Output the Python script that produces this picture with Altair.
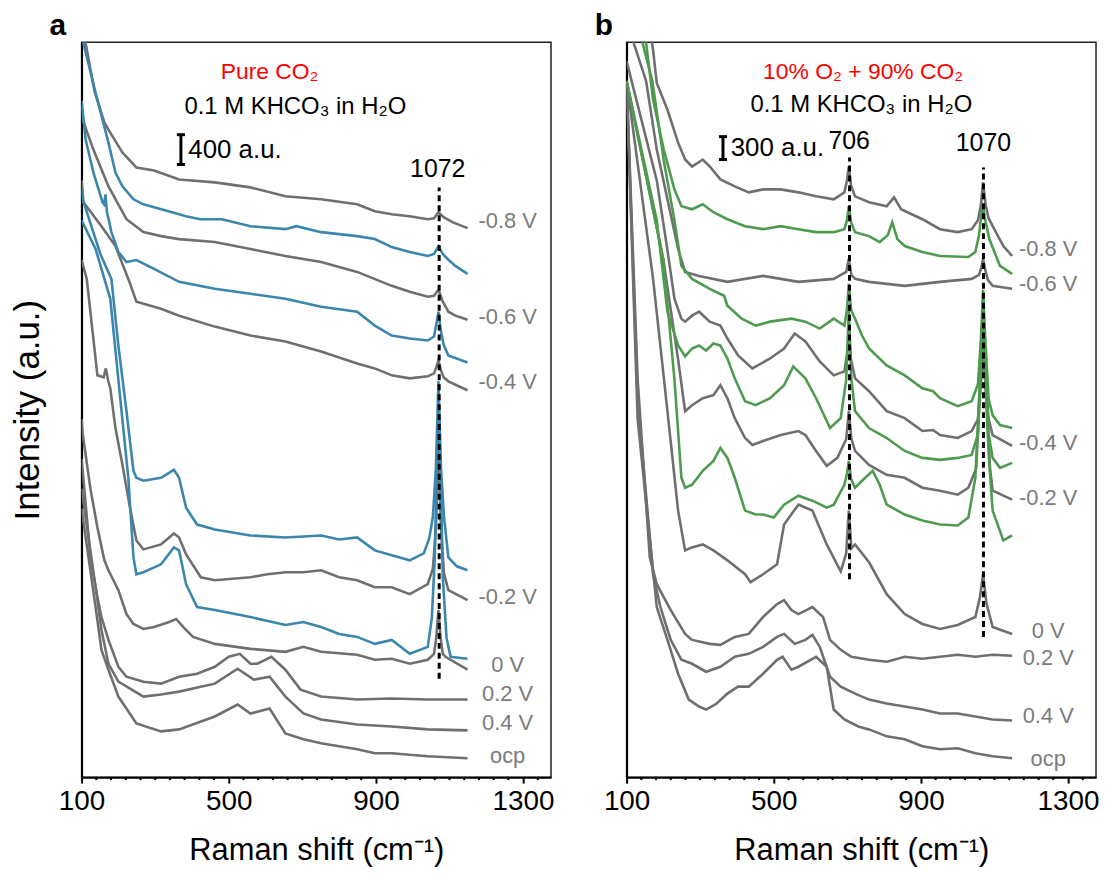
import altair as alt
import pandas as pd

# ---------------- data: panel a (Pure CO2) ----------------
# x = Raman shift (cm-1), y = stacked intensity (arbitrary offset units)
A_G_M08_X = [100, 111, 135, 162, 173, 211, 249, 297, 365, 462, 559, 654, 751, 849, 897, 943, 992, 1041, 1058, 1070, 1084, 1108, 1149]
A_G_M08_Y = [790, 738, 690, 658, 651, 628, 613, 610, 601, 598, 593, 584, 581, 576, 569, 566, 564, 561, 562, 568, 563, 558, 552]

A_B_1_X = [100, 105, 138, 173, 192, 211, 241, 268, 297, 346, 384, 422, 481, 559, 654, 684, 751, 849, 897, 943, 992, 1041, 1058, 1070, 1082, 1095, 1116, 1149]
A_B_1_Y = [780, 738, 688, 638, 608, 594, 581, 576, 573, 568, 564, 561, 561, 554, 551, 554, 548, 544, 541, 533, 528, 524, 526, 534, 526, 521, 514, 506]

A_G_M06_X = [100, 103, 132, 173, 222, 268, 316, 365, 462, 559, 654, 751, 849, 943, 992, 1041, 1058, 1070, 1082, 1097, 1116, 1149]
A_G_M06_Y = [675, 661, 631, 594, 561, 548, 544, 541, 538, 531, 524, 518, 508, 494, 488, 483, 484, 490, 478, 468, 464, 460]

A_B_2_X = [100, 111, 132, 157, 161, 165, 169, 173, 181, 200, 222, 249, 297, 365, 462, 559, 654, 751, 849, 897, 943, 992, 1041, 1058, 1064, 1070, 1076, 1084, 1097, 1149]
A_B_2_Y = [680, 641, 608, 578, 576, 586, 568, 562, 548, 528, 518, 520, 511, 498, 491, 486, 481, 473, 468, 454, 444, 441, 439, 443, 455, 468, 450, 435, 424, 417]

A_G_M04_X = [100, 105, 154, 192, 230, 249, 316, 365, 462, 559, 654, 751, 849, 897, 943, 992, 1041, 1058, 1064, 1070, 1076, 1084, 1097, 1149]
A_G_M04_Y = [600, 578, 554, 534, 498, 478, 471, 464, 453, 444, 438, 428, 416, 411, 404, 401, 403, 406, 412, 419, 410, 402, 398, 389]

A_B_3_X = [100, 103, 151, 181, 200, 222, 241, 249, 268, 316, 351, 365, 384, 414, 462, 559, 654, 751, 800, 849, 897, 943, 992, 1030, 1045, 1055, 1063, 1070, 1077, 1085, 1097, 1120, 1149]
A_B_3_Y = [590, 581, 526, 501, 434, 368, 308, 301, 298, 301, 309, 301, 271, 254, 249, 243, 241, 243, 239, 241, 228, 223, 218, 225, 240, 262, 310, 398, 310, 262, 221, 212, 208]

A_G_M02_X = [100, 114, 143, 160, 166, 172, 178, 192, 211, 230, 249, 268, 316, 351, 365, 384, 424, 462, 559, 605, 654, 703, 751, 800, 849, 897, 943, 992, 1041, 1055, 1063, 1070, 1077, 1085, 1097, 1149]
A_G_M02_Y = [520, 501, 404, 402, 411, 399, 391, 351, 314, 274, 238, 229, 234, 245, 241, 224, 201, 198, 201, 204, 206, 206, 208, 201, 198, 191, 191, 184, 194, 210, 250, 331, 250, 205, 188, 178]

A_B_4_X = [100, 138, 178, 205, 227, 241, 249, 268, 316, 351, 365, 384, 414, 462, 559, 654, 703, 751, 800, 849, 897, 943, 992, 1041, 1052, 1060, 1066, 1070, 1075, 1082, 1092, 1103, 1149]
A_B_4_Y = [560, 531, 481, 381, 301, 221, 204, 206, 214, 231, 228, 194, 171, 168, 161, 153, 156, 151, 144, 141, 134, 138, 124, 131, 160, 220, 320, 360, 320, 200, 140, 121, 119]

A_G_0_X = [100, 103, 124, 143, 162, 173, 200, 222, 241, 268, 297, 338, 357, 376, 403, 462, 559, 654, 703, 751, 849, 897, 943, 992, 1041, 1058, 1064, 1070, 1076, 1082, 1089, 1149]
A_G_0_Y = [360, 345, 290, 251, 218, 208, 188, 164, 154, 149, 151, 156, 159, 151, 141, 134, 129, 126, 131, 126, 123, 118, 119, 114, 118, 124, 140, 168, 140, 124, 121, 108]

A_G_P02_X = [100, 124, 143, 154, 173, 200, 222, 268, 316, 365, 414, 462, 500, 530, 559, 578, 616, 654, 695, 751, 849, 943, 1041, 1149]
A_G_P02_Y = [320, 221, 181, 161, 138, 111, 101, 96, 94, 101, 104, 111, 121, 124, 114, 114, 121, 108, 88, 81, 78, 79, 78, 78]

A_G_P04_X = [100, 138, 154, 173, 200, 268, 316, 365, 462, 524, 568, 611, 654, 703, 751, 849, 943, 1041, 1149]
A_G_P04_Y = [290, 191, 148, 114, 96, 81, 83, 86, 94, 109, 98, 101, 81, 64, 58, 53, 51, 48, 47]

A_G_OCP_X = [100, 138, 154, 173, 200, 249, 316, 365, 462, 524, 559, 611, 654, 703, 751, 849, 897, 943, 1041, 1149]
A_G_OCP_Y = [270, 171, 128, 108, 81, 54, 46, 48, 61, 73, 64, 69, 44, 38, 34, 28, 24, 24, 21, 19]

# ---------------- data: panel b (10% O2 + 90% CO2) ----------------
B_G_M08_X = [100, 160, 172, 182, 211, 240, 259, 278, 307, 326, 355, 394, 432, 471, 519, 567, 615, 663, 692, 699, 704, 710, 721, 759, 807, 827, 846, 904, 952, 1000, 1038, 1055, 1063, 1069, 1076, 1084, 1095, 1124, 1148]
B_G_M08_Y = [800, 760, 731, 698, 671, 638, 621, 614, 621, 614, 601, 594, 588, 591, 591, 588, 584, 581, 588, 600, 614, 595, 584, 578, 574, 583, 571, 561, 551, 548, 551, 560, 575, 598, 575, 562, 554, 534, 524]

B_N_1_X = [100, 153, 172, 201, 230, 249, 278, 307, 336, 374, 422, 471, 519, 567, 615, 663, 692, 699, 704, 710, 721, 759, 788, 810, 822, 836, 856, 904, 952, 1029, 1048, 1058, 1064, 1069, 1075, 1086, 1115, 1148]
B_N_1_Y = [790, 738, 681, 631, 591, 574, 571, 576, 568, 561, 554, 551, 554, 551, 548, 548, 551, 560, 574, 558, 548, 544, 538, 545, 558, 541, 534, 528, 524, 523, 528, 545, 565, 574, 560, 541, 514, 506]

B_G_M06_X = [100, 153, 182, 211, 240, 259, 297, 374, 471, 567, 663, 697, 704, 711, 721, 759, 856, 952, 1038, 1058, 1064, 1069, 1075, 1082, 1095, 1148]
B_G_M06_Y = [760, 700, 631, 581, 531, 508, 504, 498, 504, 498, 501, 508, 521, 505, 501, 498, 494, 498, 501, 505, 512, 521, 510, 500, 494, 491]

B_N_2_X = [100, 170, 201, 230, 249, 278, 326, 365, 374, 413, 451, 490, 548, 586, 625, 663, 692, 699, 704, 710, 721, 740, 759, 807, 856, 904, 933, 952, 1000, 1038, 1055, 1063, 1069, 1075, 1084, 1095, 1115, 1148]
B_N_2_Y = [800, 700, 620, 560, 514, 501, 491, 484, 474, 461, 454, 458, 461, 458, 451, 461, 454, 470, 496, 470, 461, 444, 431, 414, 404, 391, 388, 381, 373, 378, 395, 440, 490, 440, 380, 364, 354, 351]

B_G_M04_X = [100, 182, 211, 230, 249, 259, 278, 297, 326, 355, 374, 403, 442, 490, 528, 557, 586, 625, 663, 692, 699, 704, 710, 721, 759, 807, 856, 904, 933, 952, 1000, 1038, 1055, 1063, 1069, 1075, 1084, 1095, 1148]
B_G_M04_Y = [720, 600, 530, 481, 461, 458, 464, 468, 458, 454, 441, 424, 411, 421, 431, 446, 438, 418, 404, 408, 425, 444, 420, 401, 388, 368, 361, 348, 349, 344, 341, 348, 360, 400, 470, 400, 360, 344, 333]

B_N_3_X = [100, 182, 211, 240, 259, 278, 297, 316, 336, 355, 374, 394, 422, 451, 490, 528, 553, 586, 615, 653, 682, 697, 704, 711, 721, 759, 807, 856, 904, 952, 1000, 1038, 1055, 1063, 1069, 1075, 1084, 1095, 1115, 1148]
B_N_3_Y = [700, 560, 468, 434, 423, 431, 434, 429, 436, 434, 421, 401, 378, 374, 381, 394, 413, 401, 381, 351, 361, 400, 470, 400, 368, 351, 341, 328, 321, 319, 321, 324, 345, 420, 480, 420, 345, 321, 311, 316]

B_G_M02_X = [100, 200, 240, 259, 278, 307, 336, 355, 374, 394, 422, 442, 471, 519, 567, 586, 615, 644, 673, 697, 704, 711, 721, 759, 807, 856, 904, 952, 1000, 1029, 1050, 1060, 1069, 1078, 1088, 1095, 1148]
B_G_M02_Y = [700, 520, 420, 368, 374, 381, 384, 394, 381, 361, 341, 334, 338, 344, 348, 344, 328, 313, 321, 340, 368, 340, 328, 314, 304, 301, 291, 288, 284, 291, 310, 380, 430, 380, 310, 288, 279]

B_N_4_X = [100, 200, 230, 249, 259, 278, 307, 336, 355, 374, 394, 422, 451, 471, 500, 528, 567, 605, 644, 663, 692, 699, 704, 710, 721, 740, 769, 788, 807, 856, 904, 952, 1000, 1029, 1048, 1058, 1064, 1069, 1075, 1085, 1095, 1124, 1148]
B_N_4_Y = [700, 520, 400, 301, 291, 294, 308, 318, 331, 321, 301, 268, 264, 264, 261, 274, 283, 278, 271, 274, 294, 305, 318, 300, 291, 298, 308, 294, 274, 264, 258, 254, 253, 261, 301, 380, 420, 440, 400, 320, 268, 238, 243]

B_G_0_X = [100, 172, 211, 240, 259, 278, 307, 336, 374, 422, 437, 471, 509, 528, 567, 605, 644, 682, 697, 704, 711, 721, 759, 807, 856, 904, 952, 1000, 1048, 1060, 1069, 1078, 1095, 1148]
B_G_0_Y = [700, 501, 368, 268, 228, 231, 234, 228, 218, 204, 196, 204, 214, 254, 274, 268, 234, 207, 225, 268, 230, 234, 216, 184, 164, 154, 149, 153, 161, 180, 204, 175, 151, 144]

B_G_P02_X = [100, 130, 163, 182, 220, 259, 278, 326, 355, 394, 432, 471, 509, 528, 548, 567, 605, 634, 653, 682, 711, 759, 807, 856, 904, 952, 1000, 1048, 1095, 1148]
B_G_P02_Y = [700, 400, 221, 194, 168, 144, 138, 134, 133, 141, 144, 161, 174, 178, 168, 164, 171, 161, 138, 128, 121, 118, 116, 121, 119, 121, 123, 121, 123, 122]

B_G_P04_X = [100, 130, 172, 192, 220, 249, 278, 316, 355, 394, 432, 471, 509, 528, 557, 586, 605, 625, 653, 682, 721, 759, 807, 856, 904, 952, 1000, 1048, 1095, 1148]
B_G_P04_Y = [700, 380, 204, 171, 138, 118, 114, 106, 111, 121, 124, 131, 141, 144, 134, 138, 143, 131, 101, 91, 84, 78, 74, 71, 68, 64, 64, 61, 58, 57]

B_G_OCP_X = [100, 130, 182, 211, 240, 269, 297, 316, 345, 374, 403, 432, 471, 509, 524, 548, 567, 615, 644, 663, 692, 730, 759, 807, 856, 904, 952, 1000, 1048, 1095, 1148]
B_G_OCP_Y = [700, 360, 171, 138, 104, 78, 71, 68, 74, 84, 91, 91, 104, 118, 121, 108, 111, 121, 111, 68, 58, 51, 48, 41, 38, 31, 28, 29, 24, 21, 19]

# ---------------- labels / annotations ----------------
POTENTIALS = ["-0.8 V", "-0.6 V", "-0.4 V", "-0.2 V", "0 V", "0.2 V", "0.4 V", "ocp"]
A_LABEL_Y = [559, 463, 397, 181, 113, 84, 54, 21]
B_LABEL_Y = [531, 496, 336, 281, 147, 120, 61, 18]
A_LABEL_X = 1258
B_LABEL_X = 1246

X_TICKS = [100, 500, 900, 1300]
MINOR_TICKS = [v for v in range(140, 1377, 40) if v not in X_TICKS]
X_DOMAIN = [100, 1376]
Y_DOMAIN = [0, 739]

GRAY = "#6f6f6f"
BLUE = "#3b86ad"
GREEN = "#4e9a4e"
LABEL_GRAY = "#7b7b7b"
FONT = "Liberation Sans"

W, H = 472, 739


def frame(series):
    rows = []
    for name, xs, ys in series:
        for x, y in zip(xs, ys):
            rows.append({"name": name, "x": x, "y": y})
    return pd.DataFrame(rows)


def X():
    return alt.X("x:Q", scale=alt.Scale(domain=X_DOMAIN, nice=False, zero=False),
                 axis=alt.Axis(values=X_TICKS, format="d", labelFontSize=28, labelFont=FONT,
                               labelColor="black", tickSize=6, tickWidth=2, tickColor="black",
                               labelPadding=5, domainColor="black", domainWidth=2, grid=False,
                               title="Raman shift (cm⁻¹)", titleFont=FONT, titleFontSize=31,
                               titleFontWeight="normal", titleColor="black", titlePadding=20,
                               labelFlush=False))


def Y(title):
    return alt.Y("y:Q", scale=alt.Scale(domain=Y_DOMAIN, nice=False, zero=False),
                 axis=alt.Axis(labels=False, ticks=False, grid=False, domainColor="black",
                               domainWidth=2, title=title, titleFont=FONT, titleFontSize=35,
                               titleFontWeight="normal", titleColor="black", titlePadding=36))


def text_layer(rows, ytitle, size, color, align="center", weight="normal"):
    df = pd.DataFrame(rows, columns=["x", "y", "t"])
    return (alt.Chart(df)
            .mark_text(align=align, baseline="middle", fontSize=size, font=FONT, color=color,
                       fontWeight=weight, clip=False)
            .encode(x=X(), y=Y(ytitle), text="t:N"))


def panel(gray_series, col_series, col, label_y, label_x, red_text, sub_text,
          bar, bar_text, dashes, peak_texts, letter, ytitle):
    layers = []
    layers.append(alt.Chart(frame(gray_series)).mark_line(color=GRAY, strokeWidth=2.6, clip=True)
                  .encode(x=X(), y=Y(ytitle), detail="name:N"))
    layers.append(alt.Chart(frame(col_series)).mark_line(color=col, strokeWidth=2.6, clip=True)
                  .encode(x=X(), y=Y(ytitle), detail="name:N"))
    dash_df = pd.DataFrame(dashes, columns=["x", "y", "y2"])
    layers.append(alt.Chart(dash_df).mark_rule(color="black", strokeWidth=3, strokeDash=[6, 4])
                  .encode(x=X(), y=Y(ytitle), y2="y2:Q"))
    # scale bar
    bx, by0, by1 = bar
    bar_df = pd.DataFrame({"x": [bx], "y": [by0], "y2": [by1]})
    layers.append(alt.Chart(bar_df).mark_rule(color="black", strokeWidth=3)
                  .encode(x=X(), y=Y(ytitle), y2="y2:Q"))
    cap_df = pd.DataFrame({"x": [bx - 11, bx - 11], "x2": [bx + 11, bx + 11], "y": [by0, by1]})
    layers.append(alt.Chart(cap_df).mark_rule(color="black", strokeWidth=3)
                  .encode(x=X(), x2="x2:Q", y=Y(ytitle)))
    layers.append(text_layer([bar_text], ytitle, 26, "black", align="left"))
    # potential labels
    layers.append(text_layer(list(zip([label_x] * len(POTENTIALS), label_y, POTENTIALS)),
                             ytitle, 22, LABEL_GRAY))
    # header texts
    layers.append(text_layer([red_text], ytitle, 23, "#ff0000"))
    layers.append(text_layer([sub_text], ytitle, 24, "black"))
    layers.append(text_layer(peak_texts, ytitle, 25, "black"))
    # minor ticks
    mt = pd.DataFrame({"x": MINOR_TICKS})
    layers.append(alt.Chart(mt).mark_rule(color="black", strokeWidth=2, clip=False)
                  .encode(x=X(), y=alt.value(H), y2=alt.value(H + 3)))
    # panel letter
    layers.append(text_layer([letter], ytitle, 30, "black", weight="bold"))
    return alt.layer(*layers).properties(width=W, height=H)


panel_a = panel(
    gray_series=[("-0.8", A_G_M08_X, A_G_M08_Y), ("-0.6", A_G_M06_X, A_G_M06_Y),
                 ("-0.4", A_G_M04_X, A_G_M04_Y), ("-0.2", A_G_M02_X, A_G_M02_Y),
                 ("0", A_G_0_X, A_G_0_Y), ("0.2", A_G_P02_X, A_G_P02_Y),
                 ("0.4", A_G_P04_X, A_G_P04_Y), ("ocp", A_G_OCP_X, A_G_OCP_Y)],
    col_series=[("b1", A_B_1_X, A_B_1_Y), ("b2", A_B_2_X, A_B_2_Y),
                ("b3", A_B_3_X, A_B_3_Y), ("b4", A_B_4_X, A_B_4_Y)],
    col=BLUE, label_y=A_LABEL_Y, label_x=A_LABEL_X,
    red_text=(611, 709, "Pure CO₂"),
    sub_text=(681, 674, "0.1 M KHCO₃ in H₂O"),
    bar=(370, 616, 646), bar_text=(390, 631, "400 a.u."),
    dashes=[(1072, 99, 593)],
    peak_texts=[(1068, 611, "1072")],
    letter=(35, 755, "a"),
    ytitle="Intensity (a.u.)",
)

panel_b = panel(
    gray_series=[("-0.8", B_G_M08_X, B_G_M08_Y), ("-0.6", B_G_M06_X, B_G_M06_Y),
                 ("-0.4", B_G_M04_X, B_G_M04_Y), ("-0.2", B_G_M02_X, B_G_M02_Y),
                 ("0", B_G_0_X, B_G_0_Y), ("0.2", B_G_P02_X, B_G_P02_Y),
                 ("0.4", B_G_P04_X, B_G_P04_Y), ("ocp", B_G_OCP_X, B_G_OCP_Y)],
    col_series=[("n1", B_N_1_X, B_N_1_Y), ("n2", B_N_2_X, B_N_2_Y),
                ("n3", B_N_3_X, B_N_3_Y), ("n4", B_N_4_X, B_N_4_Y)],
    col=GREEN, label_y=B_LABEL_Y, label_x=B_LABEL_X,
    red_text=(743, 709, "10% O₂ + 90% CO₂"),
    sub_text=(738, 676, "0.1 M KHCO₃ in H₂O"),
    bar=(362, 621, 644), bar_text=(383, 633, "300 a.u."),
    dashes=[(706, 199, 623), (1070, 141, 613)],
    peak_texts=[(705, 640, "706"), (1070, 638, "1070")],
    letter=(38, 755, "b"),
    ytitle="",
)

chart = (alt.hconcat(panel_a, panel_b, spacing=39)
         .configure(padding={"left": 2, "top": 0, "right": 0, "bottom": 0}, font=FONT)
         .configure_view(stroke="#222222", strokeWidth=1.5))

chart.save("out.html", embed_options={"renderer": "svg", "actions": False})
